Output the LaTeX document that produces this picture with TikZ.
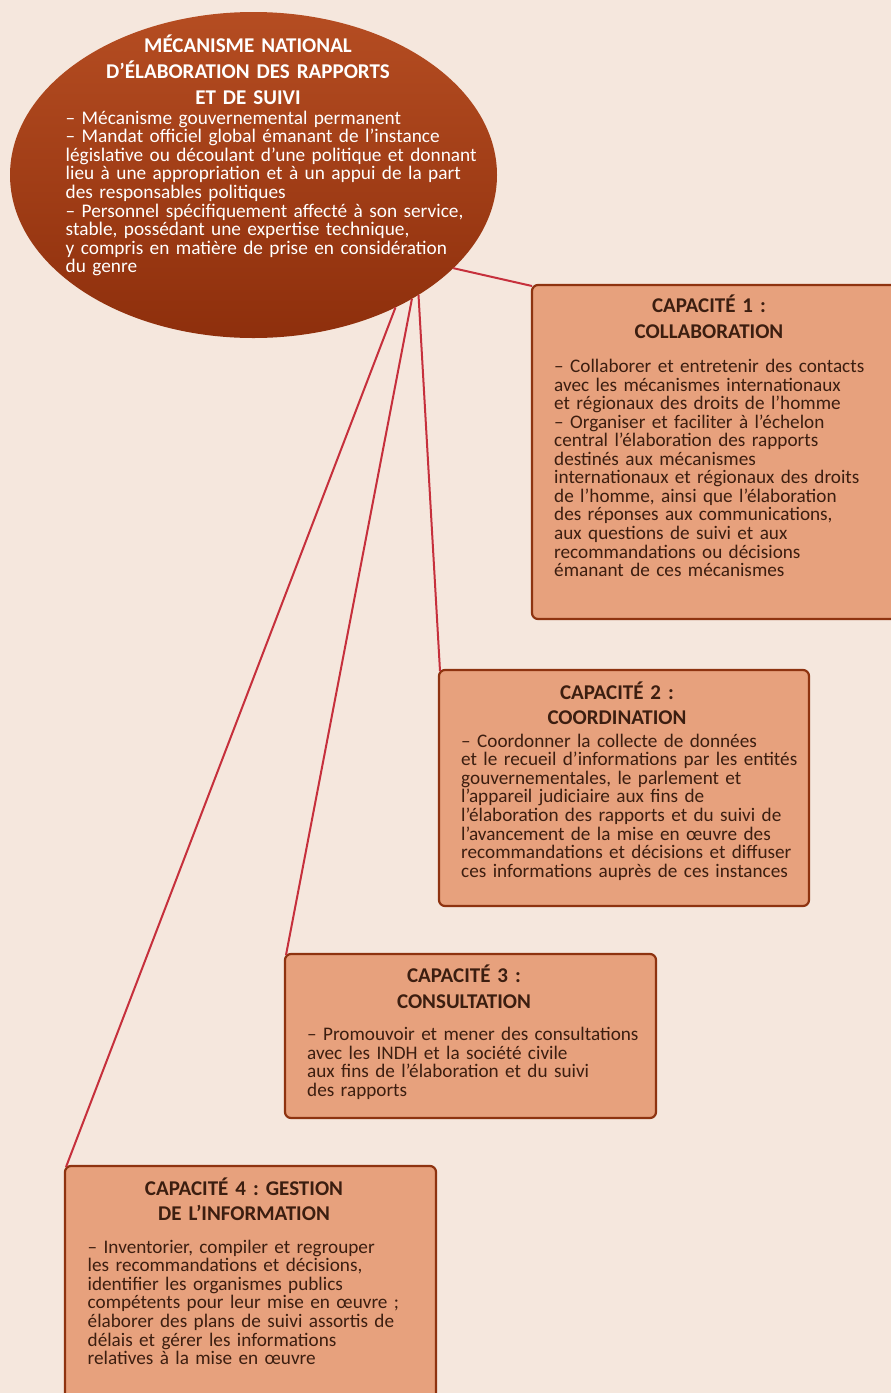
\documentclass[tikz,border=0pt]{standalone}
\usepackage{fontspec}
\setmainfont{Carlito}
\usetikzlibrary{shapes.geometric}
\definecolor{bgc}{HTML}{F5E7DD}
\definecolor{boxfill}{HTML}{E7A17D}
\definecolor{boxborder}{HTML}{8E3310}
\definecolor{linkc}{HTML}{C6303C}
\definecolor{elltop}{HTML}{B54D22}
\definecolor{ellbot}{HTML}{8E2F0C}
\definecolor{txtc}{HTML}{3C1E10}
\frenchspacing
\tikzset{
  capbox/.style={draw=boxborder, line width=2.2pt, fill=boxfill, rounded corners=6pt},
  link/.style={draw=linkc, line width=2pt},
  captitle/.style={anchor=base, align=center, inner sep=0pt, text=txtc, font=\fontsize{21}{25.6}\selectfont\bfseries, text width=360pt},
  capbody/.style={anchor=base west, align=left, inner sep=0pt, text=txtc, font=\fontsize{19.2}{18.55}\selectfont, text width=380pt},
  elltitle/.style={anchor=base, align=center, inner sep=0pt, text=white, font=\fontsize{21}{25.7}\selectfont\bfseries, text width=360pt},
  ellbody/.style={anchor=base west, align=left, inner sep=0pt, text=white, font=\fontsize{19.3}{18.55}\selectfont, text width=450pt}
}
\begin{document}
\begin{tikzpicture}[x=1pt,y=-1pt]
\useasboundingbox (0,0) rectangle (891,1393);
\clip (0,0) rectangle (891,1393);
\fill[bgc] (0,0) rectangle (891,1393);

% boxes
\draw[capbox] (532,285) rectangle (910,619);
\draw[capbox] (439,670) rectangle (809,906);
\draw[capbox] (285,954) rectangle (656,1118);
\draw[capbox] (65,1166) rectangle (436,1420);
\coordinate (b1) at (532,286);
\coordinate (b2) at (440,671);
\coordinate (b3) at (286,955);
\coordinate (b4) at (66,1167);

% ellipse
\node[ellipse, minimum width=487pt, minimum height=326pt, inner sep=0pt, outer sep=0pt,
      top color=elltop, bottom color=ellbot, draw=none] (ell) at (253.5,175) {};

% links
\draw[link] (ell.-25.3) -- (b1);
\draw[link] (ell.-36.1) -- (b2);
\draw[link] (ell.-38.7) -- (b3);
\draw[link] (ell.-43) -- (b4);

% ellipse text
\node[elltitle] (et) at (248,52.7) {MÉCANISME NATIONAL\\D’ÉLABORATION DES RAPPORTS\\ET DE SUIVI};
\node[ellbody] (eb) at (65.5,124.3) {– Mécanisme gouvernemental permanent\\
– Mandat officiel global émanant de l’instance\\
législative ou découlant d’une politique et donnant\\
lieu à une appropriation et à un appui de la part\\
des responsables politiques\\
– Personnel spécifiquement affecté à son service,\\
stable, possédant une expertise technique,\\
y compris en matière de prise en considération\\
du genre};

% box 1
\node[captitle] (t1) at (709,312.7) {CAPACITÉ 1 :\\COLLABORATION};
\node[capbody] (c1) at (554,372.5) {– Collaborer et entretenir des contacts\\
avec les mécanismes internationaux\\
et régionaux des droits de l’homme\\
– Organiser et faciliter à l’échelon\\
central l’élaboration des rapports\\
destinés aux mécanismes\\
internationaux et régionaux des droits\\
de l’homme, ainsi que l’élaboration\\
des réponses aux communications,\\
aux questions de suivi et aux\\
recommandations ou décisions\\
émanant de ces mécanismes};

% box 2
\node[captitle] (t2) at (617,699.3) {CAPACITÉ 2 :\\COORDINATION};
\node[capbody] (c2) at (461,747.3) {– Coordonner la collecte de données\\
et le recueil d’informations par les entités\\
gouvernementales, le parlement et\\
l’appareil judiciaire aux fins de\\
l’élaboration des rapports et du suivi de\\
l’avancement de la mise en œuvre des\\
recommandations et décisions et diffuser\\
ces informations auprès de ces instances};

% box 3
\node[captitle] (t3) at (464,982.7) {CAPACITÉ 3 :\\CONSULTATION};
\node[capbody] (c3) at (307,1040.7) {– Promouvoir et mener des consultations\\
avec les INDH et la société civile\\
aux fins de l’élaboration et du suivi\\
des rapports};

% box 4
\node[captitle] (t4) at (244,1195) {CAPACITÉ 4 : GESTION\\DE L’INFORMATION};
\node[capbody] (c4) at (87.5,1253.3) {– Inventorier, compiler et regrouper\\
les recommandations et décisions,\\
identifier les organismes publics\\
compétents pour leur mise en œuvre ;\\
élaborer des plans de suivi assortis de\\
délais et gérer les informations\\
relatives à la mise en œuvre};
\end{tikzpicture}
\end{document}
